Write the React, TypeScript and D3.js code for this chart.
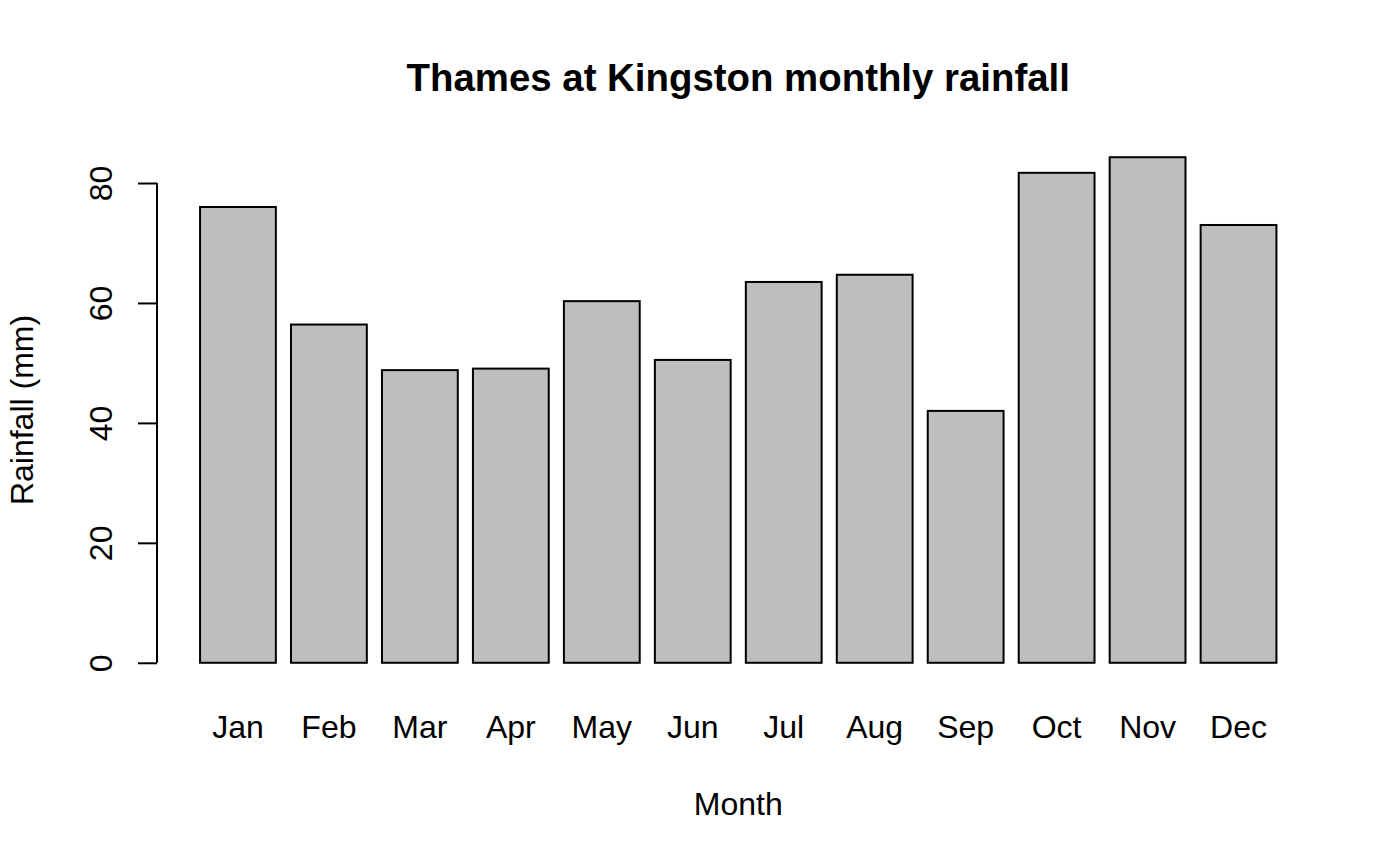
import { useEffect, useRef } from "react";
import * as d3 from "d3";

const months = ["Jan", "Feb", "Mar", "Apr", "May", "Jun", "Jul", "Aug", "Sep", "Oct", "Nov", "Dec"];
const rainfall = [76.0, 56.4, 48.8, 49.05, 60.3, 50.5, 63.5, 64.7, 42.0, 81.7, 84.3, 73.0];
const yTicks = [0, 20, 40, 60, 80];

const W = 1400;
const H = 865;
const FONT = "'Liberation Sans', Arial, Helvetica, sans-serif";

export default function App() {
  const ref = useRef<SVGSVGElement | null>(null);

  useEffect(() => {
    const svg = d3.select(ref.current);
    svg.selectAll("*").remove();

    // plot region like R's barplot (space = 0.2, width = 1, 4% axis expansion)
    const plot = { left: 157, right: 1319.5, top: 137, bottom: 683 };
    const xMax = months.length * 1.2; // right edge of last bar
    const xPad = (xMax - 0.2) * 0.04;
    const yMax = d3.max(rainfall) ?? 0;
    const yPad = yMax * 0.04;

    const x = d3.scaleLinear().domain([0.2 - xPad, xMax + xPad]).range([plot.left, plot.right]);
    const y = d3.scaleLinear().domain([-yPad, yMax + yPad]).range([plot.bottom, plot.top]);

    const g = svg.append("g").attr("font-family", FONT);

    g.selectAll("rect.bar")
      .data(rainfall)
      .enter()
      .append("rect")
      .attr("class", "bar")
      .attr("x", (_, i) => x(0.2 + i * 1.2))
      .attr("width", (_, i) => x(1.2 + i * 1.2) - x(0.2 + i * 1.2))
      .attr("y", (d) => y(d))
      .attr("height", (d) => y(0) - y(d))
      .attr("fill", "#bebebe")
      .attr("stroke", "#000")
      .attr("stroke-width", 2);

    g.selectAll("text.month")
      .data(months)
      .enter()
      .append("text")
      .attr("class", "month")
      .attr("x", (_, i) => x(0.7 + i * 1.2))
      .attr("y", 738)
      .attr("text-anchor", "middle")
      .attr("font-size", 32)
      .text((d) => d);

    // y axis
    const axis = g
      .append("g")
      .attr("transform", `translate(${plot.left},0)`)
      .call(d3.axisLeft(y).tickValues(yTicks).tickSize(19).tickFormat(d3.format("d")));
    axis.select(".domain").remove();
    axis.selectAll(".tick line").attr("stroke", "#000").attr("stroke-width", 2);
    axis
      .selectAll(".tick text")
      .attr("transform", "rotate(-90)")
      .attr("x", 0)
      .attr("y", -45.3)
      .attr("dy", 0)
      .attr("text-anchor", "middle")
      .attr("fill", "#000")
      .attr("font-size", 32)
      .attr("font-family", FONT);
    axis
      .append("line")
      .attr("y1", y(yTicks[0]))
      .attr("y2", y(yTicks[yTicks.length - 1]))
      .attr("stroke", "#000")
      .attr("stroke-width", 2);

    const cx = (plot.left + plot.right) / 2;
    g.append("text")
      .attr("x", cx)
      .attr("y", 91)
      .attr("text-anchor", "middle")
      .attr("font-size", 38.4)
      .attr("font-weight", "bold")
      .text("Thames at Kingston monthly rainfall");

    g.append("text")
      .attr("x", cx)
      .attr("y", 815)
      .attr("text-anchor", "middle")
      .attr("font-size", 32)
      .text("Month");

    g.append("text")
      .attr("transform", `translate(33.3,${(plot.top + plot.bottom) / 2}) rotate(-90)`)
      .attr("text-anchor", "middle")
      .attr("font-size", 32)
      .text("Rainfall (mm)");
  }, []);

  return (
    <svg
      ref={ref}
      width={W}
      height={H}
      style={{ position: "absolute", left: 0, top: 0, background: "#fff" }}
    ></svg>
  );
}
